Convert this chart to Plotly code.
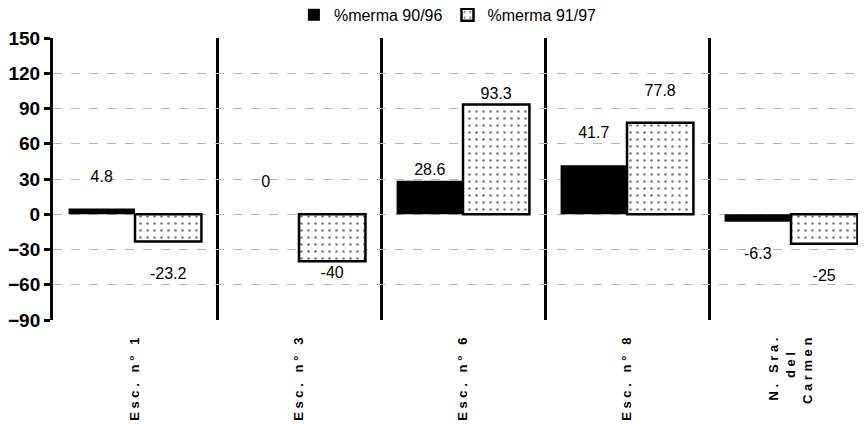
import plotly.graph_objects as go

escuelas = ["Esc. n° 1", "Esc. n° 3", "Esc. n° 6", "Esc. n° 8", "N. Sra.<br>del<br>Carmen"]
merma_90_96 = [4.8, 0, 28.6, 41.7, -6.3]
merma_91_97 = [-23.2, -40, 93.3, 77.8, -25]
y_ticks = [150, 120, 90, 60, 30, 0, -30, -60, -90]
# labels that sit further from the bar end in the original
lejos_90_96 = [True, True, False, True, True]
lejos_91_97 = [True, False, False, True, True]

# spaced-out letters like the original axis labels
def spaced(s):
    lines = [" ".join(part) for part in s.split("<br>")]
    w = max(len(l) for l in lines)
    # pad very short lines so they look centred once rotated
    lines = [l + "\u00a0" * ((w - len(l)) // 2) if len(l) < w / 2 else l for l in lines]
    return "<br>".join(lines)

tick_text = [spaced(e) for e in escuelas]

def lbl(vals, lejos):
    out = []
    for v, far in zip(vals, lejos):
        t = f"{v:g}"
        if far:
            t = t + "<br> " if v >= 0 else " <br>" + t
        out.append(t)
    return out

fig = go.Figure()

fig.add_trace(go.Bar(
    x=escuelas, y=merma_90_96, name="%merma 90/96",
    marker=dict(color="black", line=dict(width=0)),
    text=lbl(merma_90_96, lejos_90_96), textposition="outside",
    cliponaxis=False,
))

fig.add_trace(go.Bar(
    x=escuelas, y=merma_91_97, name="%merma 91/97",
    marker=dict(color="white", line=dict(color="black", width=2.5),
                pattern=dict(shape=".", fgcolor="black", bgcolor="white",
                             size=7, solidity=0.12)),
    text=lbl(merma_91_97, lejos_91_97), textposition="outside",
    cliponaxis=False,
))

fig.update_traces(textfont=dict(family="Liberation Sans, Arial", size=16, color="black"))

# page body has an 8px margin, so the margins are trimmed by 8px
fig.update_layout(
    width=866, height=424,
    margin=dict(l=45, r=0, t=30, b=112, autoexpand=False),
    paper_bgcolor="white", plot_bgcolor="white",
    barmode="group", bargap=0.19, bargroupgap=0,
    font=dict(family="Liberation Sans, Arial", color="black"),
    legend=dict(orientation="h", x=0.481, xanchor="center", y=1.082, yanchor="middle",
                font=dict(size=16), traceorder="normal", itemwidth=30,
                bgcolor="rgba(0,0,0,0)"),
)

fig.update_xaxes(
    tickvals=escuelas, ticktext=tick_text, tickangle=-90,
    tickfont=dict(size=13, weight="bold"), ticklabelstandoff=14,
    range=[-0.5, 4.506], tickson="boundaries", ticklen=0,
    showgrid=True, gridcolor="black", gridwidth=2.5,
    showline=False, zeroline=False,
)

fig.update_yaxes(
    range=[-90, 150], tickvals=y_ticks,
    tickfont=dict(size=19, weight="bold"),
    showline=True, linecolor="black", linewidth=3,
    ticks="outside", ticklen=6, tickwidth=3, tickcolor="black",
    showgrid=True, gridcolor="#b8b8b8", gridwidth=1, griddash="dash",
    zeroline=False,
)

fig.write_html("out.html")
